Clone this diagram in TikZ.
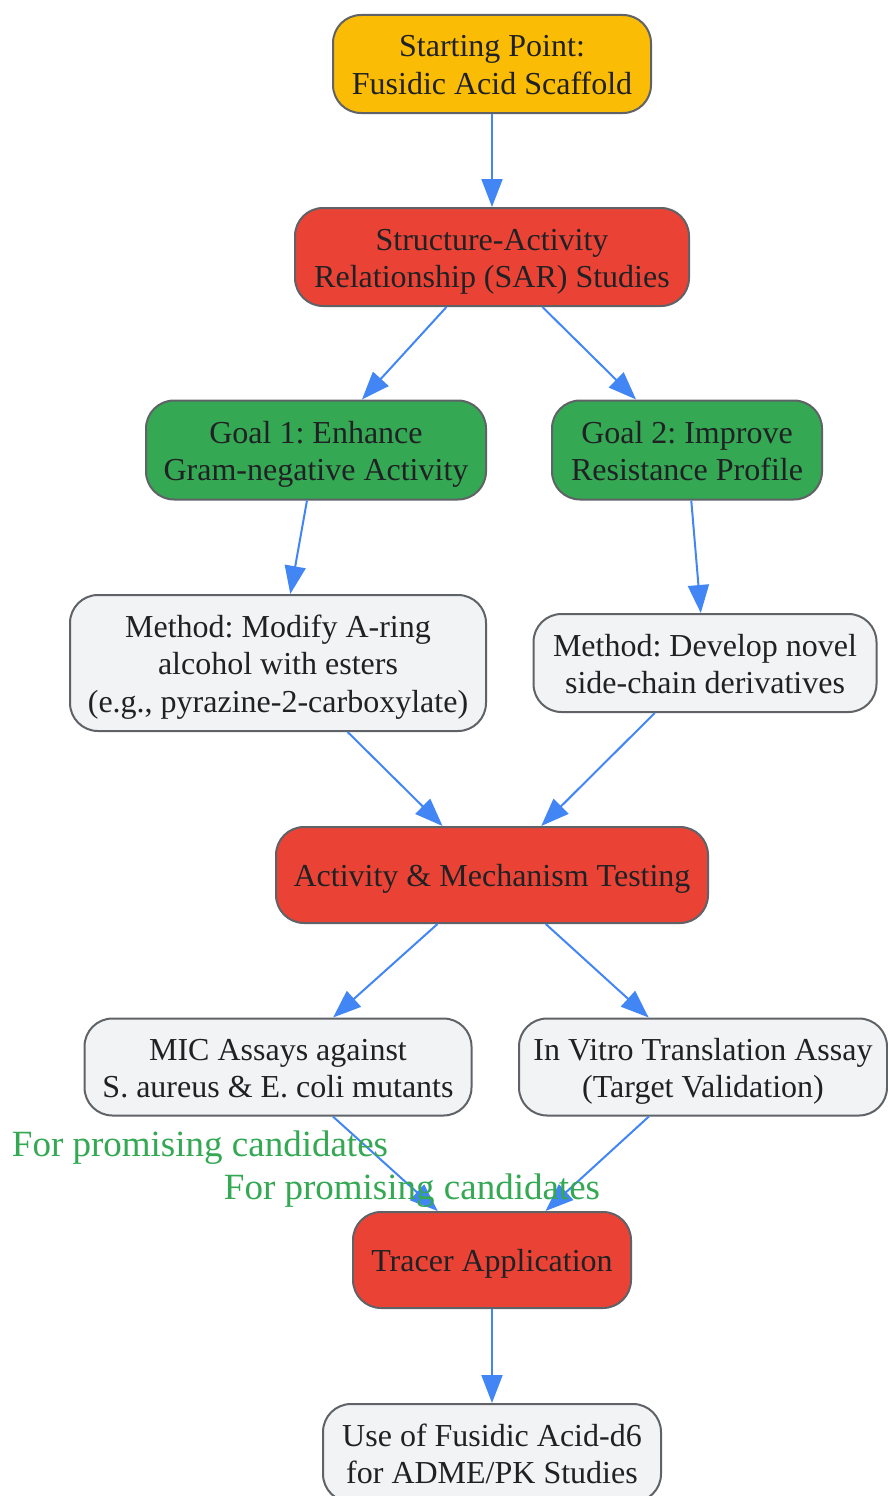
\documentclass[tikz,border=0pt]{standalone}
\usepackage{fontspec}
\setmainfont{Liberation Serif}
\frenchspacing
\usetikzlibrary{arrows.meta,shapes.misc}
\definecolor{cyellow}{HTML}{FBBC05}
\definecolor{cred}{HTML}{EA4335}
\definecolor{cgreen}{HTML}{34A853}
\definecolor{cgray}{HTML}{F1F3F4}
\definecolor{cborder}{HTML}{5F6368}
\definecolor{carrow}{HTML}{4285F4}
\definecolor{ctext}{HTML}{202124}
\definecolor{clabel}{HTML}{34A853}
\newcommand\tstr{\rule{0pt}{31pt}}
\newcommand\bstr{\rule[-7.5pt]{0pt}{7.5pt}}
\tikzset{
  box/.style={draw=cborder, line width=2pt, rounded corners=28pt, align=center,
    inner sep=0pt, text=ctext, font=\fontsize{32}{37.5}\selectfont},
  ybox/.style={box, fill=cyellow},
  rbox/.style={box, fill=cred},
  gbox/.style={box, fill=cgreen},
  wbox/.style={box, fill=cgray},
  conn/.style={draw=carrow, line width=2pt, -{Triangle[length=28pt,width=21pt]}},
  elabel/.style={text=clabel, font=\fontsize{37}{40}\selectfont, inner sep=0pt}
}
\begin{document}
\begin{tikzpicture}[x=1pt,y=-1pt]
\useasboundingbox (0,0) rectangle (887,1496);
\node[ybox, minimum width=318pt, minimum height=98pt] (start) at (492,64) {\tstr Starting Point:\\Fusidic Acid Scaffold\bstr};
\node[rbox, minimum width=394pt, minimum height=98pt] (sar) at (492,257) {\tstr Structure-Activity\\Relationship (SAR) Studies\bstr};
\node[gbox, minimum width=340pt, minimum height=99pt] (g1) at (316,450) {\tstr Goal 1: Enhance\\Gram-negative Activity\bstr};
\node[gbox, minimum width=270pt, minimum height=99pt] (g2) at (687,450) {\tstr Goal 2: Improve\\Resistance Profile\bstr};
\node[wbox, minimum width=416pt, minimum height=136pt] (m1) at (278,663) {\tstr Method: Modify A-ring\\alcohol with esters\\(e.g., pyrazine-2-carboxylate)\bstr};
\node[wbox, minimum width=343pt, minimum height=98pt] (m2) at (705,663) {\tstr Method: Develop novel\\side-chain derivatives\bstr};
\node[rbox, minimum width=432pt, minimum height=96pt] (amt) at (492,875) {\tstr Activity \& Mechanism Testing\bstr};
\node[wbox, minimum width=387pt, minimum height=97pt] (mic) at (278,1067) {\tstr MIC Assays against\\S. aureus \& E. coli mutants\bstr};
\node[wbox, minimum width=368pt, minimum height=97pt] (ivt) at (703,1067) {\tstr In Vitro Translation Assay\\(Target Validation)\bstr};
\node[rbox, minimum width=278pt, minimum height=96pt] (tracer) at (492,1260) {\tstr Tracer Application\bstr};
\node[wbox, minimum width=338pt, minimum height=98pt] (use) at (492,1453) {\tstr Use of Fusidic Acid-d6\\for ADME/PK Studies\bstr};
\draw[conn] (start) -- (sar);
\draw[conn] (sar) -- (g1);
\draw[conn] (sar) -- (g2);
\draw[conn] (g1) -- (m1);
\draw[conn] (g2) -- (m2);
\draw[conn] (m1) -- (amt);
\draw[conn] (m2) -- (amt);
\draw[conn] (amt) -- (mic);
\draw[conn] (amt) -- (ivt);
\draw[conn] (mic) -- (tracer);
\draw[conn] (ivt) -- (tracer);
\draw[conn] (tracer) -- (use);
\node[elabel] (lab1) at (200,1148) {For promising candidates};
\node[elabel] (lab2) at (412,1191) {For promising candidates};
\end{tikzpicture}
\end{document}
